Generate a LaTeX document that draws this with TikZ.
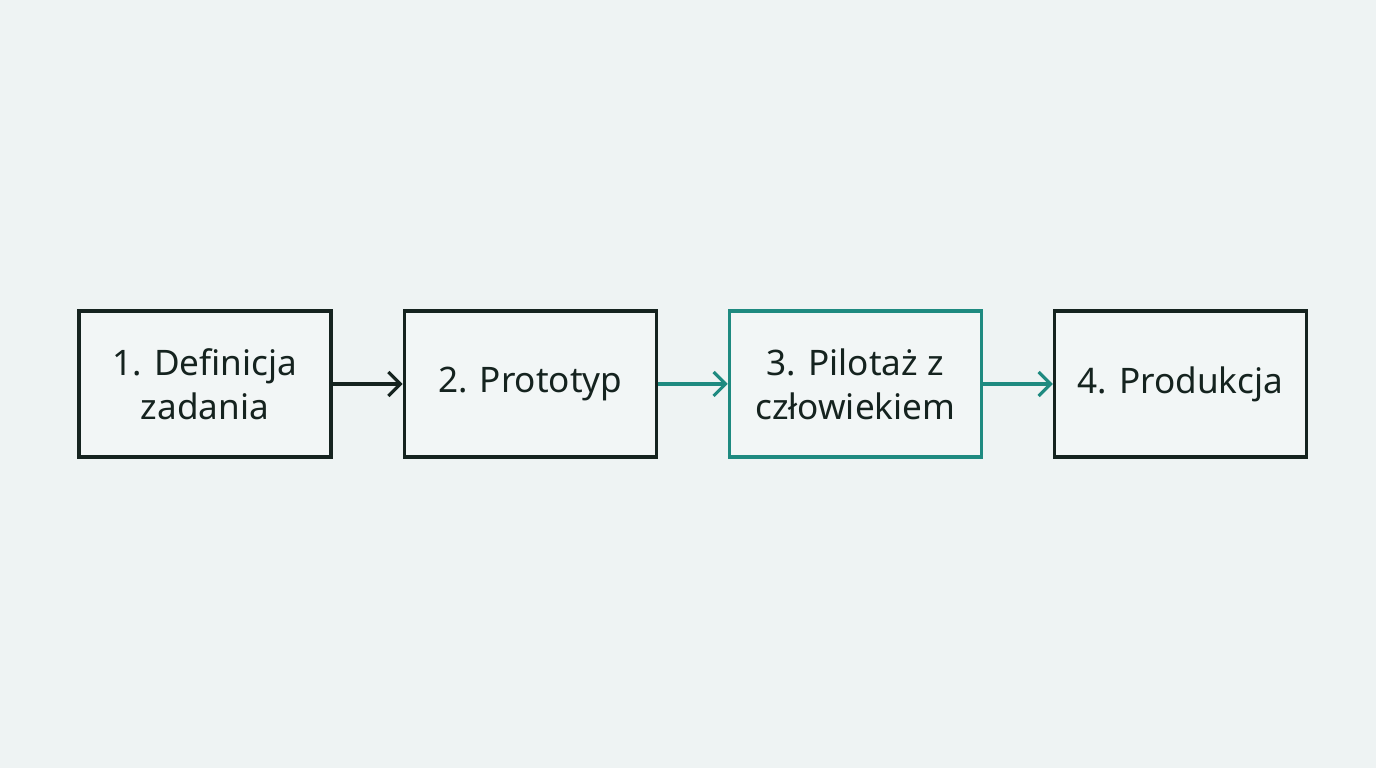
\documentclass[tikz,border=0pt]{standalone}
\usepackage{fontspec}
\setmainfont{Noto Sans}
\usetikzlibrary{positioning,arrows.meta}
\definecolor{bgcol}{HTML}{EEF3F3}
\definecolor{boxfill}{HTML}{F2F6F6}
\definecolor{darkline}{HTML}{15231F}
\definecolor{tealline}{HTML}{1E8A80}
\tikzset{
  stage/.style = {draw = darkline, line width = 0.9pt, fill = boxfill,
    minimum width = 2.52cm, minimum height = 1.46cm, align = center,
    inner sep = 0pt, font = \fontsize{10}{12.5}\selectfont, text = darkline},
  flow/.style = {line width = 0.9pt, -{Straight Barb[length = 1.2mm, width = 2.4mm]}}
}
\begin{document}
\begin{tikzpicture}
        \fill[bgcol] (0,0) rectangle (13.76,7.68);
        \useasboundingbox (0,0) rectangle (13.76,7.68);

        \node[stage] (def) at (2.05,3.84) {1. Definicja\\zadania};
        \node[stage, right = 0.7cm of def] (proto) {2. Prototyp};
        \node[stage, right = 0.7cm of proto, draw = tealline] (pilot) {3. Pilotaż z\\człowiekiem};
        \node[stage, right = 0.7cm of pilot] (prod) {4. Produkcja};

        \draw[flow, darkline] (def) -- (proto);
        \draw[flow, tealline] (proto) -- (pilot);
        \draw[flow, tealline] (pilot) -- (prod);
\end{tikzpicture}
\end{document}
